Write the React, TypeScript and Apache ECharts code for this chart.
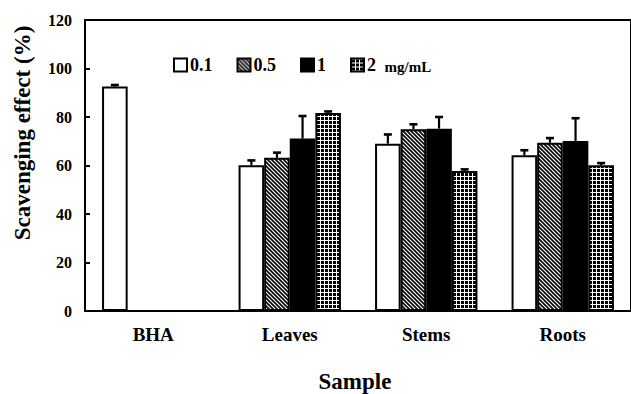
import React, { useEffect, useRef } from "react";
import * as echarts from "echarts";

const categories = ["BHA", "Leaves", "Stems", "Roots"];
const seriesNames = ["0.1", "0.5", "1", "2"];
const v01 = [92.6, 60.1, 69.0, 64.2];
const v05 = [null, 63.2, 74.9, 69.4];
const v1 = [null, 71.1, 75.2, 70.1];
const v2 = [null, 81.6, 57.7, 60.1];
const e01 = [0.6, 2.0, 3.8, 2.1];
const e05 = [null, 2.1, 2.1, 1.9];
const e1 = [null, 9.3, 4.8, 9.4];
const e2 = [null, 0.7, 0.7, 0.9];
const yTicks = [0, 20, 40, 60, 80, 100, 120];

function hatchPattern(): string {
  const c = document.createElement("canvas");
  c.width = 4;
  c.height = 4;
  const g = c.getContext("2d")!;
  g.fillStyle = "#fff";
  g.fillRect(0, 0, 4, 4);
  g.strokeStyle = "#000";
  g.lineWidth = 1.6;
  g.beginPath();
  g.moveTo(-1, -1);
  g.lineTo(5, 5);
  g.moveTo(-1, 3);
  g.lineTo(1, 5);
  g.moveTo(3, -1);
  g.lineTo(5, 1);
  g.stroke();
  return c.toDataURL();
}

function gridPattern(): string {
  const c = document.createElement("canvas");
  c.width = 4;
  c.height = 4;
  const g = c.getContext("2d")!;
  g.fillStyle = "#000";
  g.fillRect(0, 0, 4, 4);
  g.fillStyle = "#fff";
  g.fillRect(0, 0, 1, 4);
  g.fillRect(0, 0, 4, 1);
  return c.toDataURL();
}

export default function App() {
  const ref = useRef<HTMLDivElement>(null);
  useEffect(() => {
    if (!ref.current) return;
    const chart = echarts.init(ref.current, undefined, { renderer: "svg" });
    const font = "'Liberation Serif', 'Times New Roman', serif";
    const fills: any[] = [
      "#fff",
      { image: hatchPattern(), repeat: "repeat" },
      "#000",
      { image: gridPattern(), repeat: "repeat" },
    ];
    const values = [v01, v05, v1, v2];
    const errors = [e01, e05, e1, e2];
    const gapRatio = 0.25;
    const nBars = 4;

    const barSeries = values.map((vals, i) => ({
      type: "bar",
      name: seriesNames[i],
      data: vals,
      barGap: "0%",
      barCategoryGap: "25%",
      itemStyle: { color: fills[i], borderColor: "#000", borderWidth: 2 },
      z: 3,
    }));

    const errSeries = values.map((vals, i) => ({
      type: "custom",
      name: "err" + i,
      data: vals.map((v, k) => [k, v, errors[i][k]]),
      z: 4,
      renderItem: (params: any, api: any) => {
        const v = api.value(1);
        const e = api.value(2);
        if (v == null || isNaN(v) || e == null || isNaN(e)) return null;
        const cat = api.value(0);
        const band = api.size([1, 0])[0];
        const barW = (band * (1 - gapRatio)) / nBars;
        const base = api.coord([cat, v]);
        const top = api.coord([cat, v + e]);
        const cx = base[0] - (band * (1 - gapRatio)) / 2 + barW * (i + 0.5);
        const capHalf = 4;
        return {
          type: "group",
          children: [
            { type: "line", shape: { x1: cx, y1: base[1], x2: cx, y2: top[1] }, style: { stroke: "#000", lineWidth: 2.2 } },
            { type: "line", shape: { x1: cx - capHalf, y1: top[1], x2: cx + capHalf, y2: top[1] }, style: { stroke: "#000", lineWidth: 2.6 } },
          ],
        };
      },
    }));

    chart.setOption({
      animation: false,
      backgroundColor: "#fff",
      grid: {
        left: 85,
        top: 20,
        width: 548,
        height: 291,
        show: true,
        borderColor: "#000",
        borderWidth: 2,
        containLabel: false,
      },
      legend: {
        data: seriesNames,
        left: 168,
        top: 51,
        itemWidth: 13,
        itemHeight: 13,
        itemGap: 24,
        icon: "rect",
        textStyle: {
          fontFamily: font,
          fontWeight: "bold",
          fontSize: 18,
          color: "#000",
          padding: [0, 0, 0, -2],
          rich: {
            u: { fontFamily: font, fontWeight: "bold", fontSize: 15, color: "#000", padding: [3, 0, 0, 4] },
          },
        },
        formatter: (name: string) => (name === "2" ? "2 {u|mg/mL}" : name),
        itemStyle: { borderColor: "#000", borderWidth: 2 },
      },
      xAxis: {
        type: "category",
        data: categories,
        axisLine: { lineStyle: { color: "#000", width: 2 } },
        axisTick: { show: false },
        axisLabel: {
          fontFamily: font,
          fontWeight: "bold",
          fontSize: 19,
          color: "#000",
          margin: 14,
        },
      },
      yAxis: {
        type: "value",
        min: 0,
        max: 120,
        interval: 20,
        axisLine: { show: true, lineStyle: { color: "#000", width: 2 } },
        axisTick: { show: true, inside: true, length: 5, lineStyle: { color: "#000", width: 2 } },
        splitLine: { show: false },
        axisLabel: {
          fontFamily: font,
          fontWeight: "bold",
          fontSize: 16,
          color: "#000",
          margin: 13,
          formatter: (v: number) => (yTicks.includes(v) ? String(v) : ""),
        },
      },
      graphic: [
        {
          type: "text",
          x: 22,
          y: 133,
          rotation: Math.PI / 2,
          style: {
            text: "Scavenging effect (%)",
            fontFamily: font,
            fontWeight: "bold",
            fontSize: 23,
            fill: "#000",
            align: "center",
            verticalAlign: "middle",
          },
        },
        {
          type: "text",
          x: 355,
          y: 381,
          style: {
            text: "Sample",
            fontFamily: font,
            fontWeight: "bold",
            fontSize: 23,
            fill: "#000",
            align: "center",
            verticalAlign: "middle",
          },
        },
      ],
      series: [...barSeries, ...errSeries],
    });
    return () => chart.dispose();
  }, []);
  return (
    <div
      ref={ref}
      style={{ position: "fixed", left: 0, top: 0, width: 631, height: 394, background: "#fff" }}
    />
  );
}
